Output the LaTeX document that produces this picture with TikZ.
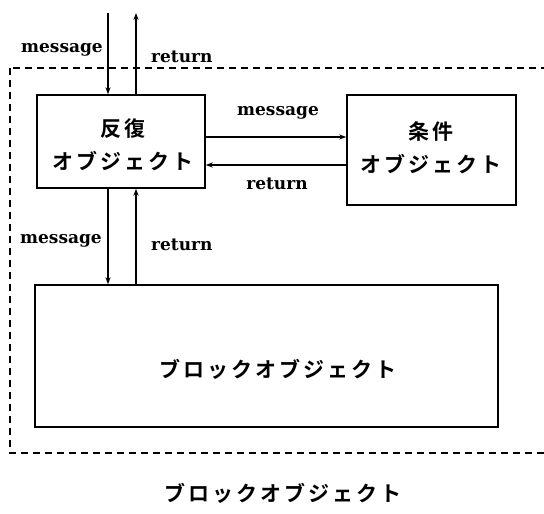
\documentclass[tikz,border=0pt]{standalone}
\usepackage{fontspec}
\setmainfont{DejaVu Serif}
\newfontfamily\jp[LetterSpace=14]{Noto Sans CJK JP Bold}
\usetikzlibrary{arrows.meta}
\begin{document}
\begin{tikzpicture}[x=1pt,y=-1pt,
  box/.style={draw,line width=1.4pt,inner sep=0pt},
  arr/.style={line width=1.1pt,-{Stealth[length=7pt,width=5pt]}},
  lbl/.style={font=\fontsize{17}{20}\selectfont\bfseries,inner sep=0pt},
  jlbl/.style={font=\fontsize{21}{33}\selectfont\jp,align=center,inner sep=0pt}]
\useasboundingbox (0,0) rectangle (544,514);
\draw[line width=1.1pt,dash pattern=on 7pt off 5pt] (10,68) rectangle (548,453);
\node[box,minimum width=168pt,minimum height=93pt] (rep) at (121,141.5) {};
\node[jlbl] at (123,144.5) {反復\\オブジェクト};
\node[box,minimum width=169pt,minimum height=110pt] (cond) at (431.5,150) {};
\node[jlbl] at (431,147.5) {条件\\オブジェクト};
\node[box,minimum width=463pt,minimum height=142pt] (blk) at (266.5,356) {};
\node[jlbl] at (278,369) {ブロックオブジェクト};
\node[jlbl] (outer) at (283,493) {ブロックオブジェクト};
\coordinate (tin) at (108,13);
\coordinate (tout) at (136,13);
\draw[arr] (tin) -- (tin |- rep.north);
\draw[arr] (tout |- rep.north) -- (tout);
\node[lbl,anchor=east] (m1) at (103,50) {message};
\node[lbl,anchor=west] (r1) at (151,57) {return};
\draw[arr] (rep.east |- 0,137) -- (cond.west |- 0,137);
\draw[arr] (cond.west |- 0,165) -- (rep.east |- 0,165);
\node[lbl] (m2) at (278,113) {message};
\node[lbl] (r2) at (277,184) {return};
\draw[arr] (tin |- rep.south) -- (tin |- blk.north);
\draw[arr] (tout |- blk.north) -- (tout |- rep.south);
\node[lbl,anchor=east] (m3) at (102,241) {message};
\node[lbl,anchor=west] (r3) at (151,245) {return};
\end{tikzpicture}
\end{document}
